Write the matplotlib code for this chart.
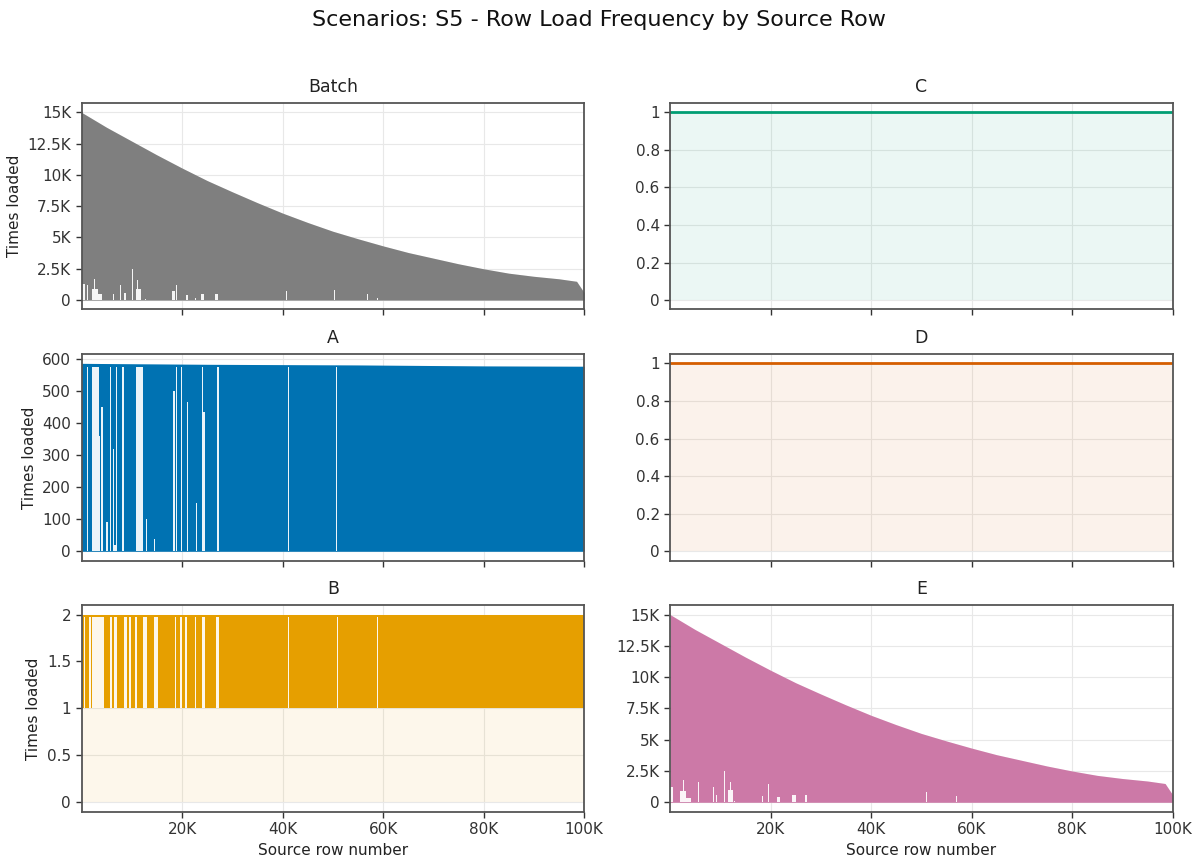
import numpy as np
import matplotlib
matplotlib.use("Agg")
import matplotlib.pyplot as plt
from matplotlib.ticker import FuncFormatter, FixedLocator

# ---- data ----
# upper envelope of the dense series (row number -> times loaded)
batch_env_x = [1, 5000, 10000, 15000, 20000, 25000, 30000, 35000, 40000, 45000, 50000,
               55000, 60000, 65000, 70000, 75000, 80000, 85000, 90000, 95000, 98500, 100000]
batch_env_y = [15000, 13800, 12700, 11600, 10550, 9550, 8650, 7780, 6950, 6200, 5500,
               4900, 4330, 3800, 3350, 2900, 2500, 2150, 1900, 1700, 1500, 600]
# stretches where the series never drops to 0 (start row, end row, lowest value)
batch_gap_start = [100, 1100, 2000, 2500, 3200, 5400, 6300, 6800, 7700, 8400, 10100, 10800, 11100,
                   12600, 18100, 18800, 19300, 20800, 22500, 23700, 26500, 40700, 50300, 56900, 58800]
batch_gap_end = [700, 1250, 3200, 2650, 4100, 5550, 6500, 6950, 7850, 8800, 10250, 11900, 11250,
                 12800, 18500, 18950, 19450, 21200, 22700, 24300, 27100, 40850, 50450, 57050, 58950]
batch_gap_h = [1260, 1200, 900, 1700, 450, 1700, 500, 300, 1200, 600, 2500, 900, 1600,
               100, 700, 1200, 1500, 400, 200, 500, 500, 700, 800, 450, 200]

e_env_x = batch_env_x
e_env_y = [15000, 13800, 12700, 11600, 10550, 9550, 8650, 7780, 6950, 6200, 5500,
           4900, 4330, 3800, 3350, 2900, 2500, 2150, 1900, 1700, 1500, 600]
e_gap_start = [50, 1100, 2000, 2600, 3200, 4700, 5600, 6300, 6700, 8500, 9100, 10800, 11600, 11900,
               12800, 18200, 19500, 21300, 24300, 26800, 40700, 50900, 56900, 58800]
e_gap_end = [550, 1250, 3200, 2750, 4200, 4850, 5750, 6450, 6850, 8700, 9400, 10950, 12600, 12050,
             13000, 18400, 19650, 21800, 25100, 27300, 40850, 51050, 57050, 58950]
e_gap_h = [1200, 1400, 900, 1750, 350, 300, 1600, 400, 300, 1200, 600, 2500, 1000, 1600,
           100, 500, 1500, 400, 600, 600, 200, 800, 500, 200]

a_env_x = [1, 25000, 55000, 80000, 100000]
a_env_y = [587, 584, 582, 579, 578]
a_gap_start = [1000, 2000, 3500, 3900, 4900, 5600, 6200, 6500, 6900, 8000, 10800, 12800,
               14500, 18300, 18800, 19700, 21000, 22800, 23900, 24200, 27000, 41000, 50700, 58700]
a_gap_end = [1300, 3500, 3750, 4300, 5200, 5900, 6400, 6800, 7100, 8500, 12200, 13000,
             14700, 18500, 19000, 19900, 21200, 23000, 24100, 24500, 27300, 41200, 50900, 58850]
a_gap_h = [575, 575, 360, 450, 90, 575, 320, 20, 575, 575, 575, 100,
           37, 500, 575, 575, 465, 150, 575, 435, 575, 575, 575, 275]

b_env_x = [1, 100000]
b_env_y = [2, 2]
b_base = 1
b_gap_start = [400, 1500, 2000, 5600, 6500, 8500, 9500, 10700, 12200, 14500, 18500, 19500,
               20500, 22500, 24000, 26800, 41000, 50800, 58800]
b_gap_end = [600, 1800, 4400, 6000, 7000, 9000, 9800, 11000, 13000, 15200, 18800, 19900,
             21000, 22700, 24600, 27400, 41200, 51000, 59000]
b_gap_h = [1.97] * 19

c_x = [1, 100000]
c_y = [1, 1]
d_x = [1, 100000]
d_y = [1, 1]

x_ticks = [20000, 40000, 60000, 80000, 100000]

colors = {"Batch": "#7f7f7f", "A": "#0072B2", "B": "#E69F00",
          "C": "#009E73", "D": "#D55E00", "E": "#CC79A7"}


def tint(c, a=0.08):
    rgb = np.array(matplotlib.colors.to_rgb(c))
    return tuple(a * rgb + (1 - a))


def k_fmt(v, pos):
    if v == 0:
        return "0"
    if abs(v) >= 1000:
        return "{:g}K".format(v / 1000)
    return "{:g}".format(v)


def style(ax, title):
    ax.set_title(title, fontsize=12.5, color="#222222", pad=8)
    ax.grid(True, color="#e8e8e8", lw=0.8)
    ax.set_axisbelow(True)
    for s in ax.spines.values():
        s.set_color("#555555")
        s.set_linewidth(1.3)
    ax.tick_params(labelsize=11, colors="#333333", length=4, width=1)
    ax.set_xlim(1, 100000)
    ax.xaxis.set_major_locator(FixedLocator(x_ticks))
    ax.xaxis.set_major_formatter(FuncFormatter(k_fmt))
    ax.yaxis.set_major_formatter(FuncFormatter(k_fmt))


def dense_panel(ax, title, ex, ey, gs, ge, gh, base=0):
    col = colors[title]
    ax.fill_between(ex, 0, ey, color=col, alpha=0.08, lw=0)
    ax.fill_between(ex, base, ey, color=col, lw=0)
    gs = np.array(gs)
    ge = np.array(ge)
    ax.bar(gs, np.array(gh) - base, width=ge - gs, bottom=base, align="edge",
           color=tint(col), lw=0)
    style(ax, title)


fig, axes = plt.subplots(3, 2, figsize=(11.99, 8.58), dpi=100, sharex=True)
fig.subplots_adjust(left=0.068, right=0.978, top=0.880, bottom=0.054,
                    wspace=0.171, hspace=0.216)

dense_panel(axes[0, 0], "Batch", batch_env_x, batch_env_y,
            batch_gap_start, batch_gap_end, batch_gap_h)
axes[0, 0].set_ylim(-750, 15750)
axes[0, 0].set_yticks([0, 2500, 5000, 7500, 10000, 12500, 15000])

dense_panel(axes[1, 0], "A", a_env_x, a_env_y, a_gap_start, a_gap_end, a_gap_h)
axes[1, 0].set_ylim(-29, 616)
axes[1, 0].set_yticks([0, 100, 200, 300, 400, 500, 600])

dense_panel(axes[2, 0], "B", b_env_x, b_env_y, b_gap_start, b_gap_end, b_gap_h, base=b_base)
axes[2, 0].set_ylim(-0.1, 2.1)
axes[2, 0].set_yticks([0, 0.5, 1, 1.5, 2])

dense_panel(axes[2, 1], "E", e_env_x, e_env_y, e_gap_start, e_gap_end, e_gap_h)
axes[2, 1].set_ylim(-750, 15750)
axes[2, 1].set_yticks([0, 2500, 5000, 7500, 10000, 12500, 15000])

for ax, title, xs, ys in [(axes[0, 1], "C", c_x, c_y), (axes[1, 1], "D", d_x, d_y)]:
    col = colors[title]
    ax.fill_between(xs, 0, ys, color=col, alpha=0.08, lw=0)
    ax.plot(xs, ys, color=col, lw=2)
    style(ax, title)
    ax.set_ylim(-0.05, 1.05)
    ax.set_yticks([0, 0.2, 0.4, 0.6, 0.8, 1])

for ax in axes[:, 0]:
    ax.set_ylabel("Times loaded", fontsize=11, color="#222222")
for ax in axes[2, :]:
    ax.set_xlabel("Source row number", fontsize=11, color="#222222")

fig.suptitle("Scenarios: S5 - Row Load Frequency by Source Row", fontsize=16,
             color="#111111", y=0.988)

fig.savefig("out.png", dpi=100)
